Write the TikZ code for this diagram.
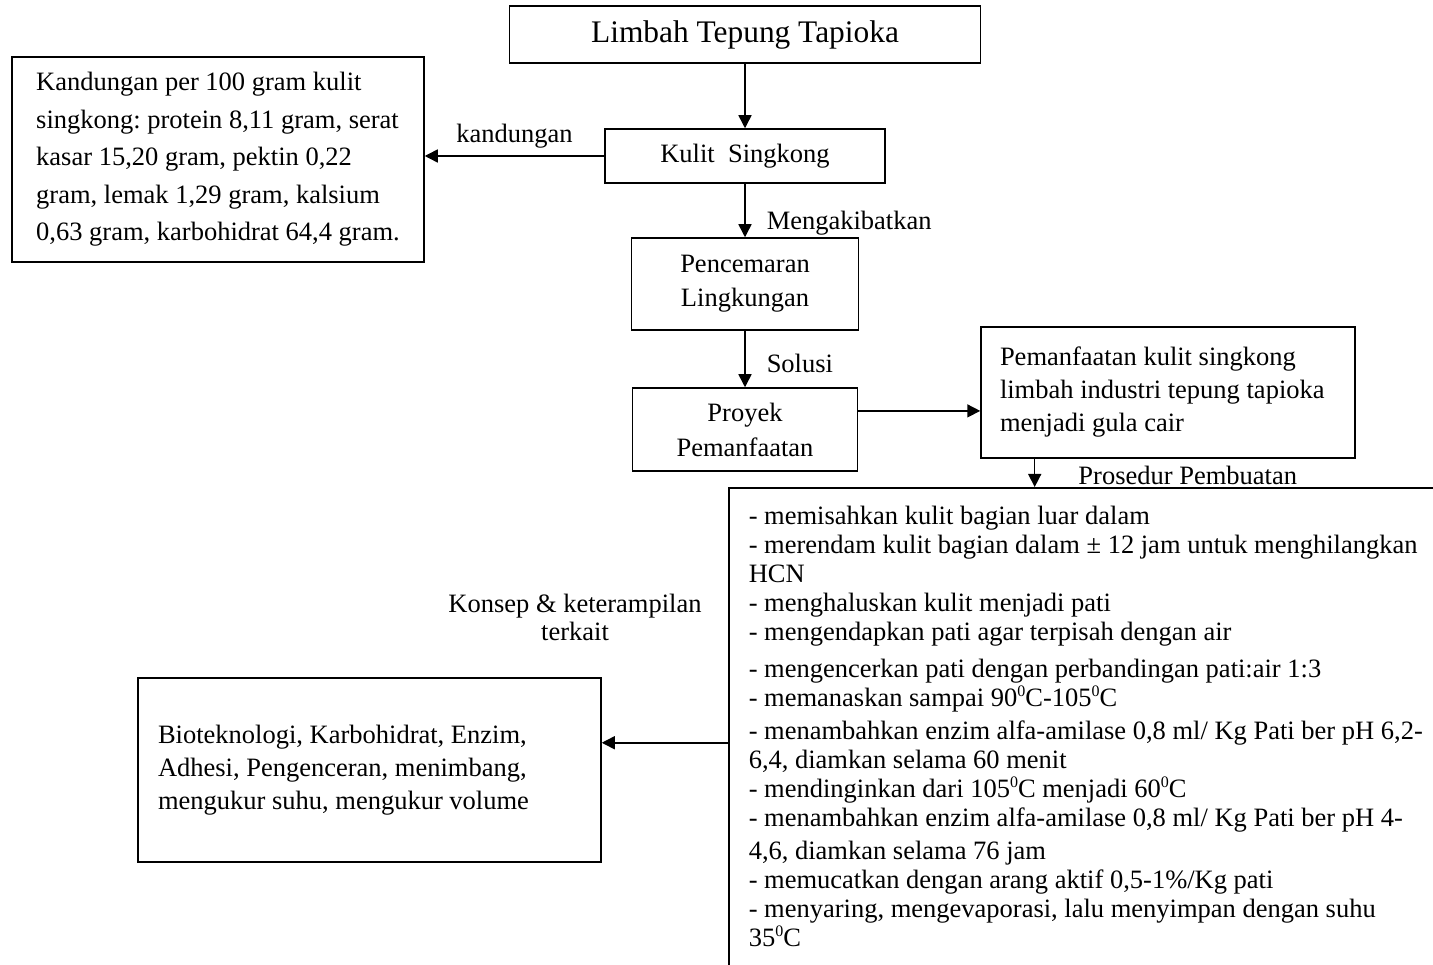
\documentclass[tikz,border=0pt]{standalone}
\usepackage{fontspec}
\setmainfont{Liberation Serif}
\usetikzlibrary{arrows.meta,positioning,calc}
\newcommand{\dg}{\raisebox{0.36em}{\fontsize{16}{16}\selectfont 0}}
\frenchspacing

\begin{document}
\begin{tikzpicture}[x=1pt,y=-1pt,>={Triangle[length=13pt,width=13pt]},line width=1.5pt,
 s/.style={draw,inner sep=0pt,font=\fontsize{26.5}{35}\selectfont},
 lab/.style={inner sep=2pt,font=\fontsize{26.5}{28}\selectfont}]
 \useasboundingbox (0,0) rectangle (1433,965);
 \node[s,minimum width=471pt,minimum height=57pt,font=\fontsize{31.4}{36}\selectfont] (limbah) at (745,34.5) {Limbah Tepung Tapioka};
 \node[s,minimum width=280pt,minimum height=54pt] (kulit) at (745,156) {Kulit\ \ Singkong};
 \node[s,align=left,minimum width=412pt,minimum height=205pt,font=\fontsize{26.5}{37.5}\selectfont] (kand) at (218,159.5) {Kandungan per 100 gram kulit\\singkong: protein 8,11 gram, serat\\kasar 15,20 gram, pektin 0,22\\gram, lemak 1,29 gram, kalsium\\0,63 gram, karbohidrat 64,4 gram.};
 \node[s,align=center,minimum width=227pt,minimum height=92pt,font=\fontsize{26.5}{34}\selectfont] (cemar) at (745,284) {Pencemaran\\Lingkungan};
 \node[s,align=center,minimum width=225pt,minimum height=83pt] (proyek) at (745,429.5) {Proyek\\Pemanfaatan};
 \node[s,align=flush left,text width=336pt,inner xsep=19pt,minimum height=131pt,font=\fontsize{26.5}{33}\selectfont] (pem) at (1168,392.5) {Pemanfaatan kulit singkong\\limbah industri tepung tapioka\\menjadi gula cair};
 \node[draw,minimum width=800pt,minimum height=510pt,anchor=north west] (proc) at (728,487) {};
 \node[anchor=north west,inner sep=0pt,align=left,font=\fontsize{26.5}{29}\selectfont] (steps) at (748,505) {- memisahkan kulit bagian luar dalam\\
- merendam kulit bagian dalam ± 12 jam untuk menghilangkan\\
HCN\\
- menghaluskan kulit menjadi pati\\
- mengendapkan pati agar terpisah dengan air\\[8pt]
- mengencerkan pati dengan perbandingan pati:air 1:3\\
- memanaskan sampai 90\dg C-105\dg C\\[4pt]
- menambahkan enzim alfa-amilase 0,8 ml/ Kg Pati ber pH 6,2-\\
6,4, diamkan selama 60 menit\\
- mendinginkan dari 105\dg C menjadi 60\dg C\\
- menambahkan enzim alfa-amilase 0,8 ml/ Kg Pati ber pH 4-\\[4pt]
4,6, diamkan selama 76 jam\\
- memucatkan dengan arang aktif 0,5-1\%/Kg pati\\
- menyaring, mengevaporasi, lalu menyimpan dengan suhu\\
35\dg C};
 \node[lab,align=center] (konsep) at (575,617) {Konsep \& keterampilan\\terkait};
 \node[s,align=flush left,text width=423pt,inner xsep=20pt,minimum height=184pt,font=\fontsize{26.5}{33}\selectfont] (bio) at (369.5,770) {Bioteknologi, Karbohidrat, Enzim,\\Adhesi, Pengenceran, menimbang,\\mengukur suhu, mengukur volume};
 \draw[->] (limbah) -- (kulit);
 \draw[->] (kulit.west) -- (kulit.west -| kand.east) node[lab,midway,above=5pt] {kandungan};
 \draw[->] (kulit) -- (cemar) node[lab,pos=0.745,right=19pt] {Mengakibatkan};
 \draw[->] (cemar) -- (proyek) node[lab,pos=0.57,right=19pt] {Solusi};
 \coordinate (pa) at ($(proyek.north east)!0.28!(proyek.south east)$);
 \draw[->] (pa) -- (pa -| pem.west);
 \coordinate (pb) at ($(pem.south west)!0.145!(pem.south east)$);
 \draw[->] (pb) -- (pb |- proc.north) node[lab,pos=0.59,right=41pt] {Prosedur Pembuatan};
 \draw[->] (proc.west) -- (proc.west -| bio.east);
\end{tikzpicture}
\end{document}
